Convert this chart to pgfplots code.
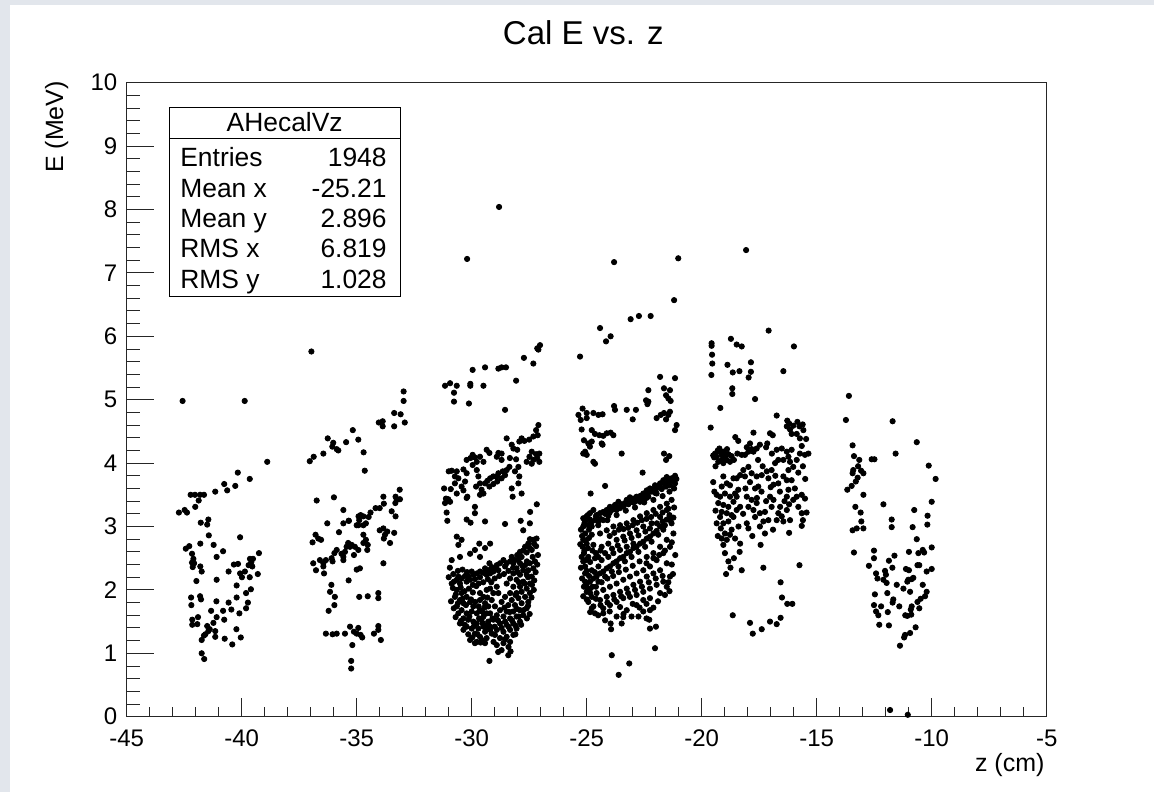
\documentclass[border=0pt]{standalone}
\usepackage{pgfplots}
\pgfplotsset{compat=1.18}
\usepackage{fontspec}
\setmainfont{Liberation Sans}
\newlength\px
\setlength\px{0.5pt}
\definecolor{canvasgray}{RGB}{226,230,236}
\begin{document}
\begin{tikzpicture}[x=\px,y=\px]
\path[use as bounding box] (0,0) rectangle (1154,792);
\fill[white] (0,0) rectangle (1154,792);
\fill[canvasgray] (0,0) rectangle (10,792);
\fill[canvasgray] (0,787) rectangle (1154,792);
\begin{axis}[
  at={(126.7\px,75.3\px)}, anchor=south west,
  scale only axis, width=920\px, height=634\px,
  xmin=-45, xmax=-5, ymin=0, ymax=10,
  axis line style={line width=1.1\px, black!85},
  xtick={-45,-40,...,-5},
  xticklabels={-45,-40,-35,-30,-25,-20,-15,-10,-5},
  ytick={0,1,...,10},
  yticklabels={0,1,2,3,4,5,6,7,8,9,10},
  minor x tick num=4, minor y tick num=4,
  xtick pos=bottom, ytick pos=left,
  tick align=inside,
  xtick style={/pgfplots/major tick length=19\px, line width=0.9\px, black!85},
  ytick style={/pgfplots/major tick length=27\px, line width=0.9\px, black!85},
  minor x tick style={/pgfplots/minor tick length=9.5\px, line width=0.9\px, black!85},
  minor y tick style={/pgfplots/minor tick length=13.5\px, line width=0.9\px, black!85},
  xticklabel style={anchor=north, inner sep=0pt, yshift=-13\px, font=\fontsize{12}{14}\selectfont},
  yticklabel style={anchor=east, inner sep=0pt, xshift=-9\px, font=\fontsize{12}{14}\selectfont},
  xlabel={z (cm)},
  xlabel style={at={(axis description cs:0.998,-0.0573)}, anchor=north east, inner sep=0pt, font=\fontsize{12.5}{15}\selectfont},
  ylabel={E (MeV)},
  ylabel style={at={(axis description cs:-0.0692,1.003)}, anchor=base east, inner sep=0pt, font=\fontsize{12.5}{15}\selectfont},
  every axis title shift=0pt,
  title={Cal E vs. z},
  title style={at={(axis description cs:0.4963,1.061)}, anchor=base, inner sep=0pt, font=\fontsize{16.5}{20}\selectfont},
  clip=false,
]
\addplot[only marks, mark=*, mark size=2.65\px, black] coordinates {
(-42.57,4.98) (-39.87,4.98) (-38.89,4.02) (-40.17,3.85) (-39.65,3.75) (-40.76,3.67) (-40.28,3.64) (-40.63,3.57) (-41.15,3.55) (-42.22,3.50) (-42.03,3.50) (-41.81,3.50) (-41.64,3.50) (-41.87,3.41) (-42.02,3.31) (-42.73,3.22) (-42.48,3.26) (-42.38,3.22) (-41.78,3.06) (-41.45,3.11) (-41.5,3.03) (-40.07,2.83) (-41.43,2.86) (-41.8,2.73) (-41.22,2.71) (-42.43,2.65) (-42.28,2.69) (-40.81,2.61) (-39.25,2.58) (-41.09,2.52) (-42.16,2.57) (-42.1,2.49) (-42.16,2.43) (-42.07,2.42) (-42.13,2.36) (-39.64,2.49) (-39.51,2.49) (-39.58,2.44) (-39.7,2.39) (-39.54,2.37) (-40.34,2.40) (-40.16,2.41) (-40.57,2.29) (-41.8,2.37) (-41.74,2.29) (-40.07,2.26) (-39.99,2.20) (-39.86,2.29) (-39.65,2.20) (-39.3,2.25) (-41.97,2.14) (-41.09,2.16) (-40.22,2.07) (-39.6,2.01) (-39.81,1.95) (-42.2,1.88) (-41.81,1.90) (-41.77,1.85) (-42.19,1.76) (-41.1,1.82) (-40.57,1.80) (-40.22,1.88) (-39.73,1.80) (-39.81,1.71) (-40.45,1.69) (-40.81,1.67) (-41.33,1.67) (-40.1,1.63) (-41.09,1.57) (-41.23,1.48) (-40.76,1.53) (-42.15,1.53) (-41.9,1.57) (-42.15,1.45) (-41.93,1.46) (-41.5,1.43) (-41.39,1.38) (-41.58,1.30) (-41.45,1.35) (-41.64,1.28) (-41.15,1.35) (-41.15,1.26) (-40.74,1.23) (-40.23,1.38) (-40.04,1.25) (-40.41,1.14) (-41.74,1.21) (-41.74,1.0) (-41.63,0.91)
(-36.97,5.76) (-32.96,5.13) (-32.96,4.98) (-32.91,4.64) (-33.09,4.77) (-33.37,4.79) (-33.37,4.58) (-34.04,4.64) (-33.87,4.66) (-33.87,4.58) (-35.17,4.52) (-34.93,4.37) (-34.7,4.17) (-34.65,3.88) (-35.46,4.33) (-36.02,4.32) (-35.87,4.22) (-36.26,4.39) (-36.06,4.26) (-35.8,4.20) (-36.45,4.15) (-36.87,4.10) (-37.04,4.03)
(-36.74,3.41) (-35.99,3.46) (-35.58,3.26) (-36.28,3.05) (-35.35,3.09) (-35.77,2.91) (-36.92,2.75) (-36.79,2.87) (-36.67,2.81) (-36.55,2.79)
(-33.84,3.47) (-33.31,3.47) (-33.13,3.58) (-33.26,3.42) (-33.12,3.43) (-33.32,3.37) (-33.82,3.36) (-34.0,3.29) (-34.18,3.29) (-34.4,3.22) (-34.48,3.15) (-34.71,3.16) (-34.92,3.16) (-34.83,3.18)
(-35.58,3.05) (-35.34,3.09) (-35.0,3.02) (-34.93,3.02) (-34.89,3.10) (-34.71,3.02) (-34.6,3.05)
(-33.48,3.24) (-33.31,3.16) (-33.37,2.90) (-33.55,2.74) (-33.67,2.92) (-33.77,2.87) (-33.84,2.97) (-34.0,2.94) (-33.82,2.81)
(-34.71,2.87) (-34.6,2.79) (-34.71,2.74) (-34.52,2.71) (-34.54,2.63) (-34.93,2.63) (-35.08,2.68) (-35.29,2.68) (-35.44,2.68) (-35.37,2.74) (-35.22,2.71) (-35.51,2.60) (-35.66,2.57) (-35.58,2.52) (-35.87,2.63) (-35.97,2.58) (-36.09,2.50) (-36.05,2.45) (-36.34,2.47) (-36.45,2.42) (-36.6,2.47) (-36.45,2.37) (-36.77,2.31) (-36.89,2.42) (-36.42,2.26) (-35.58,2.47) (-35.12,2.55) (-34.86,2.34) (-35.0,2.32) (-33.84,2.42)
(-35.35,2.15) (-36.1,2.08) (-36.16,1.97) (-35.95,1.89) (-35.97,1.76) (-36.22,1.67) (-34.89,1.89) (-34.52,1.90) (-34.06,1.95) (-34.06,1.87)
(-36.34,1.31) (-36.05,1.30) (-35.87,1.31) (-35.51,1.31) (-35.29,1.42) (-35.12,1.34) (-34.93,1.40) (-34.83,1.29) (-35.0,1.31) (-34.76,1.25) (-34.25,1.31) (-34.06,1.43) (-34.06,1.37) (-33.95,1.21) (-35.19,1.13) (-35.24,0.88) (-35.24,0.76)
(-30.2,7.22) (-28.81,8.04) (-23.81,7.17) (-21.02,7.23) (-18.07,7.36)
(-27.03,5.86) (-27.15,5.81) (-27.1,5.79) (-27.73,5.66) (-27.32,5.57) (-28.07,5.30) (-28.84,5.49) (-28.7,5.51) (-28.51,5.51) (-29.42,5.51) (-29.96,5.47) (-30.06,5.25) (-30.06,5.22) (-29.49,5.22) (-31.16,5.22) (-30.94,5.26) (-30.65,5.22) (-30.77,5.11) (-30.77,4.97) (-30.12,4.94) (-28.55,4.84)
(-27.1,4.60) (-27.2,4.52) (-27.13,4.44) (-27.32,4.42) (-27.5,4.37) (-27.71,4.35) (-27.83,4.39) (-27.93,4.34) (-28.26,4.29) (-28.19,4.23) (-28.48,4.39) (-28.02,4.21)
(-27.39,4.18) (-27.2,4.14) (-27.06,4.15) (-27.15,4.08) (-27.32,4.05) (-27.49,4.10) (-27.61,4.02) (-27.39,3.99) (-27.06,4.02)
(-29.35,4.21) (-29.23,4.16) (-28.84,4.16) (-28.7,4.15) (-28.91,4.10) (-28.7,4.05) (-28.34,4.08) (-28.07,4.06) (-27.97,3.94)
(-29.96,4.13) (-30.05,4.08) (-29.86,4.09) (-29.64,4.10) (-29.49,4.02) (-29.78,4.02) (-29.96,3.97) (-30.22,4.05)
(-28.36,3.94) (-28.48,3.89) (-28.65,3.87) (-28.84,3.84) (-28.91,3.79) (-29.06,3.79) (-29.2,3.76) (-29.32,3.72) (-29.42,3.68) (-29.23,3.63) (-29.06,3.67) (-28.89,3.71) (-28.7,3.76) (-28.55,3.81) (-28.12,3.87) (-27.93,3.79)
(-29.78,3.89) (-29.71,3.79) (-29.64,3.68) (-29.81,3.63) (-29.57,3.58) (-29.64,3.50) (-29.49,3.52) (-30.19,3.47) (-30.22,3.45)
(-31.0,3.87) (-30.87,3.88) (-30.65,3.87) (-30.36,3.90) (-30.22,3.84) (-30.73,3.79) (-30.58,3.76) (-30.29,3.71) (-30.73,3.68) (-30.91,3.59) (-30.65,3.52) (-30.44,3.63) (-30.36,3.57)
(-31.2,3.60) (-31.12,3.44) (-31.02,3.43) (-31.16,3.37) (-30.94,3.39) (-31.09,3.22) (-31.06,3.09)
(-28.26,3.60) (-28.22,3.47) (-27.83,3.52) (-27.97,3.68) (-29.86,3.31) (-29.86,3.21) (-30.22,3.11) (-30.05,3.06) (-29.42,3.08)
(-28.55,3.04) (-27.87,3.09) (-27.46,3.23) (-27.17,3.35)
(-27.18,2.81) (-27.32,2.79) (-27.47,2.80) (-27.29,2.73) (-27.54,2.73) (-27.68,2.68) (-27.47,2.66) (-27.76,2.62) (-27.9,2.60) (-28.02,2.55) (-27.83,2.52) (-28.12,2.47) (-28.26,2.52) (-28.33,2.45) (-28.48,2.42) (-28.62,2.47) (-28.77,2.42) (-28.91,2.39) (-28.99,2.34) (-29.13,2.36) (-29.28,2.31) (-29.42,2.34) (-29.49,2.27) (-29.64,2.29) (-29.78,2.26) (-29.93,2.24) (-30.0,2.29) (-30.15,2.21) (-30.29,2.22) (-30.44,2.18) (-30.58,2.21) (-30.65,2.16) (-30.77,2.13) (-30.87,2.10) (-30.51,2.10) (-30.22,2.13) (-30.07,2.16) (-29.86,2.17) (-29.64,2.20) (-29.35,2.24) (-29.2,2.26) (-29.06,2.29) (-28.84,2.31) (-28.55,2.37) (-28.19,2.42) (-27.97,2.47) (-27.61,2.59) (-27.39,2.63) (-27.2,2.69)
(-30.65,2.84) (-30.44,2.79) (-30.58,2.71) (-29.67,2.73) (-29.42,2.66) (-29.2,2.73) (-29.86,2.63) (-30.07,2.57) (-30.87,2.47) (-30.51,2.52) (-29.23,2.42) (-29.64,2.52) (-27.47,3.05) (-27.76,2.94)
(-30.65,2.00) (-30.44,1.95) (-30.73,1.89) (-30.51,1.84) (-30.36,1.79) (-30.65,1.74) (-30.22,1.89) (-30.07,1.81) (-29.93,1.74) (-30.44,1.68) (-30.58,1.63) (-30.22,1.63) (-30.0,1.66) (-29.78,1.63) (-29.64,1.68) (-30.36,1.55) (-30.15,1.53) (-29.93,1.50) (-30.51,1.47) (-29.78,1.47) (-29.57,1.53) (-30.22,1.42) (-30.0,1.39) (-29.71,1.39) (-29.49,1.42) (-30.36,1.37) (-29.86,1.31) (-29.64,1.26) (-29.42,1.34) (-29.2,1.37) (-30.07,1.21) (-29.78,1.18) (-29.42,1.16) (-29.86,1.16) (-29.61,1.17) (-29.23,0.88) (-28.41,0.97) (-28.31,1.03)
(-27.9,2.42) (-27.68,2.39) (-27.47,2.42) (-27.25,2.45) (-28.05,2.34) (-27.76,2.31) (-27.54,2.31) (-27.32,2.34) (-28.19,2.26) (-27.9,2.24) (-27.61,2.24) (-27.39,2.21) (-28.33,2.18) (-28.05,2.16) (-27.76,2.13) (-27.47,2.10) (-28.48,2.10) (-28.19,2.05) (-27.9,2.05) (-27.61,2.02) (-27.83,1.97) (-28.05,1.95) (-28.33,1.95) (-27.47,1.95) (-27.68,1.89) (-27.97,1.87) (-28.26,1.84) (-28.55,1.89) (-27.54,1.81) (-27.83,1.79) (-28.12,1.76) (-28.41,1.76) (-28.7,1.81) (-27.61,1.71) (-27.9,1.68) (-28.19,1.66) (-28.48,1.66) (-28.77,1.68) (-27.76,1.60) (-28.05,1.58) (-28.33,1.55) (-28.62,1.58) (-28.91,1.60) (-27.9,1.50) (-28.19,1.47) (-28.48,1.45) (-28.77,1.47) (-29.06,1.53) (-28.05,1.39) (-28.33,1.37) (-28.62,1.34) (-28.91,1.37) (-29.2,1.42) (-28.19,1.29) (-28.48,1.26) (-28.77,1.24) (-28.99,1.29) (-28.33,1.18) (-28.62,1.16) (-28.91,1.13) (-28.7,1.05)
(-29.35,1.63) (-29.28,1.74) (-29.13,1.84) (-29.06,1.95) (-29.2,2.02) (-28.91,2.05) (-28.84,1.95) (-28.99,1.74) (-29.2,1.63) (-29.42,1.79) (-29.49,1.89) (-29.64,1.95) (-29.35,2.00) (-29.64,1.84) (-29.49,1.58) (-29.28,1.50) (-29.13,1.31) (-29.35,1.24)
(-30.82,2.03) (-30.69,1.93) (-30.48,2.04) (-30.31,1.98) (-30.12,2.02) (-29.95,1.96) (-29.8,2.06) (-30.9,1.82) (-30.78,1.71) (-30.6,1.79) (-30.4,1.86) (-30.25,1.76) (-30.03,1.85) (-29.85,1.81) (-29.7,1.74) (-29.55,1.66) (-30.7,1.57) (-30.47,1.51) (-30.3,1.45) (-30.1,1.58) (-29.9,1.43) (-29.68,1.55) (-29.52,1.47) (-29.38,1.41) (-30.15,1.30) (-29.97,1.25) (-29.75,1.30) (-29.56,1.21) (-29.3,1.46) (-29.45,1.72) (-29.32,1.88) (-29.1,1.55) (-29.0,1.42) (-28.86,1.52) (-28.7,1.40) (-28.55,1.50) (-28.4,1.42) (-28.25,1.52) (-28.1,1.44) (-27.95,1.58) (-27.75,1.68) (-27.55,1.75) (-27.4,1.88) (-27.3,2.0) (-27.28,2.15) (-27.22,2.28) (-27.15,2.4) (-27.12,2.55) (-27.35,2.52) (-27.6,2.45) (-27.8,2.38) (-28.0,2.28) (-28.2,2.35) (-28.4,2.30) (-28.6,2.25) (-28.8,2.22) (-29.0,2.18) (-29.15,2.12) (-29.3,2.17) (-29.5,2.12) (-29.7,2.10) (-29.95,2.08) (-30.2,2.28) (-30.4,2.32) (-30.6,2.30) (-30.8,2.25) (-31.0,2.20) (-30.95,2.35) (-27.6,1.55) (-27.85,1.45) (-28.1,1.30) (-28.4,1.10) (-28.55,1.22) (-28.85,1.02) (-29.05,1.18) (-27.7,2.1) (-27.95,2.12) (-28.1,1.92) (-27.55,2.2) (-27.38,2.08) (-28.35,1.65) (-28.58,1.72) (-28.03,1.70) (-27.48,1.62)
(-21.20,6.57) (-23.09,6.27) (-22.73,6.32) (-22.22,6.32) (-24.42,6.13) (-24.16,5.92) (-23.96,6.00) (-25.29,5.68) (-21.81,5.36) (-21.16,5.34)
(-22.32,5.15) (-21.64,5.18) (-21.38,5.15) (-21.55,5.07) (-21.45,5.02) (-21.35,4.98) (-22.42,4.99) (-22.32,4.97) (-22.36,4.93)
(-23.81,4.90) (-23.77,4.84) (-23.26,4.84) (-22.86,4.84) (-23.0,4.69) (-21.96,4.71) (-21.78,4.76) (-21.64,4.79) (-21.45,4.76) (-21.38,4.81) (-21.55,4.69) (-21.09,4.60) (-21.16,4.52)
(-25.36,4.76) (-25.18,4.86) (-25.0,4.79) (-25.0,4.71) (-24.71,4.79) (-24.49,4.76) (-24.31,4.77) (-25.26,4.68)
(-25.22,4.53) (-24.78,4.52) (-24.64,4.46) (-24.45,4.44) (-24.28,4.43) (-24.13,4.47) (-23.96,4.48) (-23.84,4.44) (-24.35,4.31) (-24.31,4.29)
(-25.12,4.36) (-24.93,4.31) (-24.78,4.34) (-24.86,4.26) (-25.07,4.18) (-25.15,4.15) (-25.0,4.13) (-24.71,4.02) (-24.64,3.99) (-23.48,4.15) (-21.64,4.15) (-21.41,4.11) (-21.55,4.05) (-22.57,3.85) (-24.2,3.64) (-24.83,3.52)
(-21.16,3.80) (-21.31,3.76) (-21.52,3.78) (-21.67,3.73) (-21.45,3.71) (-21.81,3.68) (-22.03,3.65) (-21.89,3.62) (-22.1,3.59) (-22.25,3.60) (-22.39,3.57) (-22.54,3.52) (-22.36,3.50) (-22.68,3.48) (-22.83,3.47) (-22.97,3.44) (-23.12,3.46) (-23.05,3.41) (-23.26,3.42) (-23.34,3.37) (-23.48,3.35) (-23.62,3.39) (-23.77,3.34) (-23.99,3.31) (-23.91,3.26) (-24.13,3.26) (-24.28,3.23) (-24.42,3.21) (-24.57,3.18) (-24.71,3.26) (-24.86,3.21) (-25.0,3.16) (-25.15,3.13) (-25.07,3.08) (-24.86,3.11) (-24.64,3.10) (-24.93,3.02) (-25.15,3.00) (-24.78,3.00) (-24.49,3.08) (-24.28,3.10) (-24.06,3.17) (-23.7,3.26) (-23.55,3.29) (-23.19,3.35) (-22.9,3.39) (-22.61,3.43) (-22.32,3.47) (-22.03,3.53) (-21.74,3.59) (-21.38,3.65) (-21.16,3.68) (-21.55,3.63) (-21.96,3.52) (-22.68,3.39)
(-21.23,3.14) (-21.38,3.10) (-21.52,3.11) (-21.31,3.05) (-21.6,3.02) (-21.81,3.00) (-21.67,2.95) (-21.96,2.93) (-22.1,2.89) (-21.89,2.87) (-22.25,2.84) (-22.39,2.81) (-22.18,2.76) (-22.54,2.76) (-22.68,2.73) (-22.46,2.68) (-22.83,2.68) (-22.97,2.66) (-22.75,2.60) (-23.12,2.60) (-23.26,2.58) (-23.05,2.52) (-23.41,2.52) (-23.55,2.50) (-23.34,2.45) (-23.7,2.45) (-23.84,2.42) (-23.62,2.37) (-23.99,2.37) (-24.13,2.34) (-23.91,2.29) (-24.28,2.29) (-24.42,2.26) (-24.2,2.21) (-24.57,2.21) (-24.71,2.18) (-24.49,2.13) (-24.86,2.13) (-25.0,2.10)
(-25.07,2.89) (-24.78,2.87) (-24.42,2.89) (-24.13,2.94) (-23.84,3.00) (-23.55,3.02) (-23.26,3.05) (-22.97,3.10) (-22.68,3.16) (-22.39,3.21) (-22.1,3.26) (-21.81,3.31) (-21.52,3.36) (-21.31,3.42) (-25.0,2.73) (-24.71,2.71) (-24.35,2.68) (-24.06,2.73) (-23.7,2.79) (-23.41,2.84) (-23.12,2.89) (-22.83,2.94) (-22.54,3.00) (-22.18,3.05) (-21.81,3.15) (-21.52,3.26)
(-24.93,2.52) (-24.64,2.50) (-24.35,2.47) (-24.06,2.52) (-23.84,2.58) (-23.55,2.63) (-23.26,2.68) (-22.97,2.73) (-25.07,2.37) (-24.78,2.31) (-24.49,2.37) (-22.39,2.52) (-22.1,2.58) (-21.81,2.68) (-21.52,2.79) (-21.23,2.89) (-21.38,2.68) (-21.67,2.58) (-21.96,2.47) (-22.25,2.37) (-22.54,2.31) (-22.83,2.26) (-23.12,2.21) (-23.41,2.16) (-23.7,2.10) (-23.99,2.05) (-24.28,2.00) (-24.57,1.95) (-24.78,1.89) (-24.93,1.81) (-24.71,1.74) (-24.42,1.84) (-24.13,1.89) (-23.84,1.92) (-23.55,1.97) (-23.26,2.02) (-22.97,2.08) (-22.68,2.13) (-22.39,2.21) (-22.1,2.26) (-21.81,2.31) (-21.52,2.42) (-21.38,2.21) (-21.67,2.13) (-21.96,2.08) (-22.25,2.02) (-22.54,1.97) (-22.83,1.92) (-23.12,1.89) (-23.41,1.87) (-23.7,1.81) (-23.99,1.76) (-24.28,1.71) (-22.54,1.84) (-22.25,1.87) (-22.83,1.76) (-21.81,1.95) (-21.52,2.05) (-24.64,1.63) (-24.78,1.71) (-24.28,1.63) (-23.26,1.68) (-23.05,1.58) (-22.54,1.66) (-22.25,1.68)
(-25.15,2.79) (-25.18,2.68) (-25.12,2.58) (-25.15,2.45) (-25.07,2.26) (-25.0,1.97) (-25.07,2.13)
(-25.1,3.05) (-24.95,3.18) (-24.8,3.06) (-24.6,3.16) (-24.4,3.12) (-24.2,3.2) (-24.0,3.22) (-23.8,3.28) (-23.6,3.30) (-23.4,3.32) (-23.2,3.40) (-23.0,3.38) (-22.8,3.44) (-22.6,3.49) (-22.4,3.45) (-22.2,3.55) (-22.0,3.58) (-21.8,3.62) (-21.6,3.67) (-21.4,3.75) (-21.25,3.72) (-21.1,3.75) (-21.2,3.60) (-21.4,3.55) (-21.7,3.48) (-22.1,3.42) (-22.5,3.38) (-22.9,3.30) (-23.3,3.25) (-23.7,3.18) (-24.1,3.10) (-24.5,3.02) (-24.9,2.95)
(-25.25,2.95) (-25.2,2.85) (-25.05,2.78) (-24.9,2.82) (-25.28,2.72) (-25.1,2.62) (-24.95,2.66) (-24.75,2.62) (-25.22,2.52) (-25.05,2.47) (-24.85,2.44) (-24.6,2.58) (-25.25,2.35) (-25.0,2.30) (-24.9,2.22) (-24.65,2.28) (-25.2,2.18) (-25.12,2.05) (-24.95,2.02) (-24.75,2.05) (-25.15,1.9) (-25.0,1.85) (-24.85,1.95) (-24.5,2.52) (-24.4,2.62) (-24.2,2.58)
(-24.0,2.85) (-23.8,2.90) (-23.6,2.95) (-23.4,2.96) (-23.2,2.98) (-23.0,3.02) (-22.8,3.06) (-22.6,3.10) (-22.4,3.12) (-22.2,3.15) (-22.0,3.20) (-21.7,3.22) (-21.45,3.28) (-21.2,3.30) (-23.9,2.65) (-23.65,2.70) (-23.35,2.78) (-23.05,2.82) (-22.75,2.86) (-22.45,2.92) (-22.25,2.97) (-21.95,3.05) (-21.7,3.08) (-21.4,3.18)
(-24.85,2.02) (-24.6,2.05) (-24.35,2.12) (-24.1,2.18) (-23.85,2.22) (-23.6,2.28) (-23.3,2.32) (-23.0,2.38) (-22.7,2.45) (-22.4,2.42) (-22.1,2.50) (-21.85,2.55) (-21.6,2.62) (-21.3,2.75) (-21.15,2.55) (-21.3,2.4) (-21.25,2.25) (-21.45,2.12) (-21.7,2.22) (-22.0,2.18) (-22.3,2.12) (-22.6,2.05) (-22.9,2.0) (-23.2,1.95) (-23.5,1.90) (-23.8,1.85) (-24.1,1.80) (-24.4,1.76) (-24.6,1.86) (-24.85,1.65) (-24.5,1.6) (-24.0,1.66) (-23.55,1.73) (-23.0,1.78) (-22.7,1.72) (-22.4,1.78) (-22.1,1.72) (-21.9,1.82) (-21.6,1.92) (-21.4,1.98) (-22.75,1.58) (-22.4,1.55) (-23.4,1.62) (-23.7,1.58) (-24.2,1.52)
(-23.96,1.47) (-23.94,1.38) (-23.48,1.47) (-23.41,1.57) (-22.28,1.53) (-22.25,1.39) (-21.99,1.42) (-22.03,1.08) (-23.91,0.97) (-23.15,0.84) (-23.61,0.66)
(-17.09,6.09) (-18.73,5.96) (-18.48,5.87) (-18.26,5.84) (-15.99,5.84) (-19.57,5.89) (-19.57,5.85) (-19.55,5.71) (-19.54,5.57) (-19.58,5.39) (-18.88,5.55) (-18.65,5.43) (-18.36,5.45) (-17.86,5.59) (-17.86,5.44) (-17.96,5.35) (-16.45,5.45) (-18.67,5.18) (-18.67,5.09) (-17.68,5.01) (-19.19,4.87) (-19.61,4.56) (-16.74,4.75)
(-16.28,4.67) (-16.19,4.62) (-16.02,4.59) (-15.84,4.65) (-15.75,4.58) (-15.61,4.61) (-15.58,4.52) (-16.16,4.53) (-16.3,4.58) (-16.09,4.46) (-15.87,4.46) (-15.73,4.39) (-15.46,4.38) (-15.65,4.27)
(-18.54,4.41) (-18.41,4.35) (-17.75,4.48) (-17.03,4.47) (-16.91,4.44) (-17.15,4.31) (-17.2,4.25) (-17.9,4.31) (-18.04,4.25) (-17.83,4.22) (-17.61,4.23) (-17.47,4.29) (-17.97,4.18) (-17.75,4.18)
(-19.42,4.15) (-19.35,4.10) (-19.2,4.18) (-19.13,4.13) (-18.99,4.10) (-18.84,4.14) (-18.7,4.11) (-18.91,4.05) (-19.13,4.05) (-19.28,4.02) (-19.06,4.00) (-18.77,4.02) (-19.46,4.09) (-19.23,4.23) (-18.26,4.13) (-18.12,4.13)
(-16.74,4.21) (-16.52,4.23) (-16.3,4.18) (-16.09,4.21) (-16.23,4.10) (-16.45,4.05) (-16.16,4.02) (-16.02,3.94) (-16.23,3.89) (-15.87,4.05) (-15.73,4.15) (-15.51,4.13) (-15.36,4.15) (-16.67,4.05) (-16.81,4.00)
(-18.19,3.89) (-17.97,3.94) (-18.33,3.81) (-18.48,3.76) (-18.12,3.79) (-17.83,3.84) (-17.61,3.79) (-17.39,3.81) (-17.17,3.87) (-16.96,3.89) (-17.1,3.76) (-17.54,3.63) (-17.68,3.60) (-16.88,3.66) (-16.67,3.68) (-16.45,3.79) (-16.3,3.73) (-16.09,3.73)
(-19.06,3.79) (-18.91,3.68) (-19.13,3.63) (-18.77,3.65) (-18.62,3.76) (-19.35,3.50) (-19.2,3.47) (-18.99,3.52) (-18.77,3.47) (-18.55,3.52) (-18.41,3.58) (-19.28,3.37) (-19.06,3.34) (-18.84,3.31) (-18.62,3.39) (-18.48,3.47) (-19.13,3.23) (-18.91,3.21) (-18.7,3.18) (-19.2,3.15) (-18.48,3.26) (-18.33,3.31) (-19.06,3.05) (-18.84,3.08) (-18.62,3.15) (-19.17,2.97) (-18.99,2.89) (-18.77,2.87) (-19.13,2.81) (-18.91,2.79) (-19.06,2.71) (-18.55,2.81) (-18.33,2.73) (-18.99,2.58) (-18.84,2.45) (-18.94,2.25)
(-18.04,3.47) (-17.83,3.42) (-17.97,3.31) (-17.75,3.26) (-17.61,3.37) (-17.47,3.21) (-17.25,3.23) (-17.68,3.15) (-17.32,3.08) (-17.47,3.00) (-18.04,3.05) (-17.97,2.97) (-17.25,2.89) (-17.44,2.71) (-17.03,3.47) (-16.88,3.42) (-16.96,3.31) (-16.67,3.21) (-16.52,3.16) (-16.74,3.10) (-16.45,3.08) (-16.16,3.10) (-16.3,3.47) (-16.23,3.58) (-16.02,3.42) (-15.87,3.47) (-15.65,3.50) (-15.51,3.44) (-15.8,3.31) (-15.65,3.21) (-15.44,3.22) (-15.65,3.01) (-16.59,3.31) (-16.3,3.26)
(-19.5,4.12) (-19.3,4.2) (-19.05,4.18) (-18.9,4.22) (-18.6,4.05) (-18.45,4.15) (-19.4,3.95) (-19.5,3.7) (-19.45,3.55) (-19.4,3.25) (-19.35,3.05) (-19.3,2.85) (-18.7,2.95) (-18.4,3.0) (-18.2,3.2) (-18.1,3.6) (-17.9,3.7) (-17.6,3.45) (-17.4,3.55) (-17.2,3.4) (-17.0,3.62) (-16.8,3.8) (-16.6,3.55) (-16.4,3.4) (-16.2,3.35) (-15.95,3.6) (-15.8,3.85) (-15.6,3.95) (-15.5,3.75) (-17.35,3.95) (-17.55,4.05) (-16.95,4.15) (-15.6,3.1) (-16.9,2.95) (-16.2,2.9) (-17.1,3.1) (-17.8,2.85) (-18.35,2.6) (-18.6,2.5) (-18.75,2.35)
(-18.26,2.31) (-17.32,2.35) (-15.75,2.39) (-16.57,2.12) (-16.51,1.88) (-16.28,1.78) (-16.06,1.78) (-18.65,1.60) (-17.9,1.48) (-17.39,1.38) (-17.78,1.31) (-17.03,1.50) (-16.74,1.46) (-16.57,1.56)
(-13.6,5.06) (-13.73,4.68) (-11.7,4.66) (-10.65,4.33) (-13.44,4.28) (-11.57,4.15) (-13.38,4.11) (-13.15,4.05) (-12.61,4.06) (-12.49,4.06) (-13.2,3.95) (-13.41,3.89) (-13.44,3.84) (-13.07,3.88) (-12.97,3.84) (-13.22,3.77) (-13.3,3.71) (-13.48,3.64) (-13.67,3.58) (-10.13,3.96) (-9.83,3.75) (-12.97,3.50)
(-13.32,3.31) (-13.09,3.22) (-13.06,3.08) (-12.97,2.97) (-13.44,2.94) (-13.26,2.97) (-12.1,3.35) (-11.74,3.11) (-11.74,2.99) (-10.76,3.26) (-10.18,3.17) (-10.0,3.39) (-10.19,3.03) (-10.83,2.99) (-10.65,2.80) (-13.38,2.59) (-12.51,2.62) (-12.51,2.50) (-12.73,2.38)
(-10.99,2.60) (-10.58,2.58) (-10.39,2.63) (-10.33,2.59) (-10.0,2.67) (-11.62,2.54) (-11.86,2.46) (-11.71,2.35) (-12.42,2.26) (-12.36,2.18) (-12.03,2.30) (-11.99,2.24) (-12.1,2.16) (-11.96,2.11) (-12.47,1.93) (-12.51,1.76)
(-11.12,2.33) (-10.99,2.31) (-10.62,2.39) (-10.54,2.39) (-10.22,2.29) (-10.0,2.33) (-11.02,2.16) (-10.87,2.17) (-10.8,2.19) (-11.06,2.13) (-11.52,2.08) (-11.23,2.02) (-10.94,1.97) (-10.39,2.08) (-10.22,1.97) (-10.29,1.90) (-10.48,1.86) (-10.62,1.81) (-10.54,1.71) (-10.87,1.74) (-10.91,1.69)
(-11.93,1.95) (-11.67,1.85) (-11.7,1.80) (-11.41,1.74) (-11.91,1.65) (-12.2,1.74) (-12.42,1.66) (-12.32,1.60) (-12.28,1.45) (-11.86,1.44) (-11.15,1.60) (-11.06,1.59) (-10.89,1.61) (-10.7,1.41) (-10.94,1.32) (-11.16,1.29) (-11.2,1.25) (-11.38,1.12)
(-11.81,0.105) (-11.04,0.03)
};
% statistics box
\fill[white] (rel axis cs:0.0463,0.6625) rectangle (rel axis cs:0.2971,0.9612);
\draw[line width=1\px, black] (rel axis cs:0.0463,0.6625) rectangle (rel axis cs:0.2971,0.9612);
\draw[line width=1\px, black] (rel axis cs:0.0463,0.9123) -- (rel axis cs:0.2971,0.9123);
\begin{scope}[every node/.style={inner sep=0pt, font=\fontsize{13.2}{15}\selectfont}]
\node[anchor=center] at (rel axis cs:0.1717,0.938) {AHecalVz};
\node[anchor=base west] at (rel axis cs:0.0579,0.8675) {Entries};
\node[anchor=base east] at (rel axis cs:0.2829,0.8675) {1948};
\node[anchor=base west] at (rel axis cs:0.0579,0.8196) {Mean x};
\node[anchor=base east] at (rel axis cs:0.2829,0.8196) {-25.21};
\node[anchor=base west] at (rel axis cs:0.0579,0.7716) {Mean y};
\node[anchor=base east] at (rel axis cs:0.2829,0.7716) {2.896};
\node[anchor=base west] at (rel axis cs:0.0579,0.7237) {RMS x};
\node[anchor=base east] at (rel axis cs:0.2829,0.7237) {6.819};
\node[anchor=base west] at (rel axis cs:0.0579,0.6757) {RMS y};
\node[anchor=base east] at (rel axis cs:0.2829,0.6757) {1.028};
\end{scope}
\end{axis}
\end{tikzpicture}
\end{document}
